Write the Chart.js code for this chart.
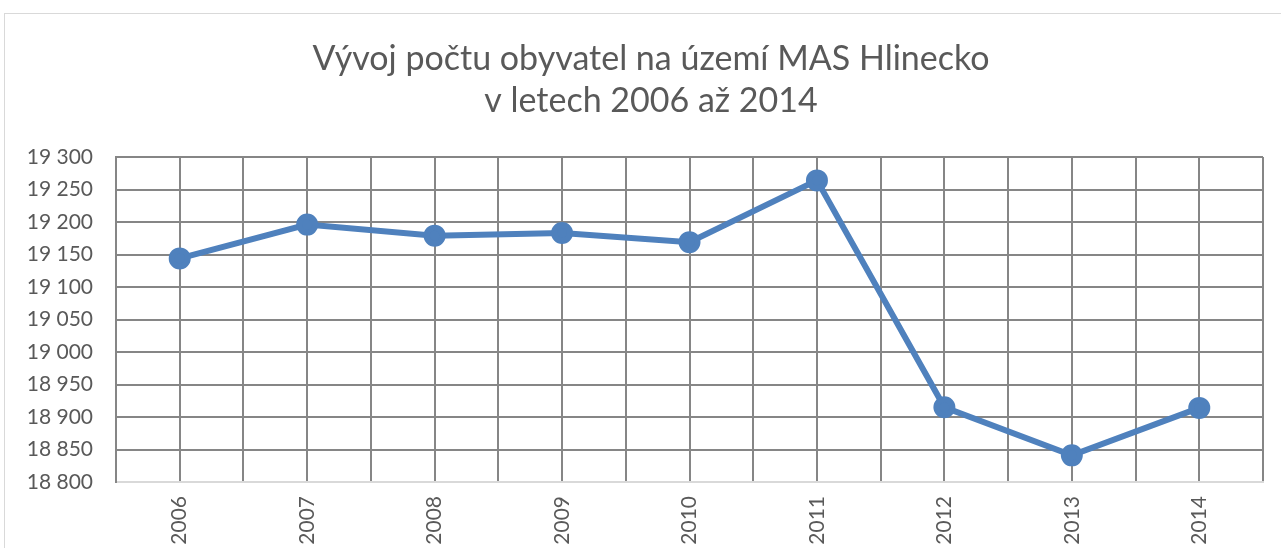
<!DOCTYPE html>
<html>
<head>
<meta charset="utf-8">
<script src="https://cdn.jsdelivr.net/npm/chart.js@4/dist/chart.umd.min.js"></script>
<style>
  html, body { margin: 0; padding: 0; background: #fff; overflow: hidden; }
  #wrap { position: relative; width: 1281px; height: 548px; }
  #frame { position: absolute; left: 4px; top: 13px; width: 1400px; height: 600px; border: 1px solid #d9d9d9; }
  canvas { position: absolute; left: 0; top: 0; }
</style>
</head>
<body>
<div id="wrap">
  <div id="frame"></div>
  <canvas id="chart" width="1281" height="548"></canvas>
</div>
<script>
const titleLines = ['Vývoj počtu obyvatel na území MAS Hlinecko', 'v letech 2006 až 2014'];
const years = ['2006', '2007', '2008', '2009', '2010', '2011', '2012', '2013', '2014'];
const population = [19144, 19196, 19179, 19183, 19169, 19264, 18915, 18841, 18914];
const yMin = 18800;
const yMax = 19300;
const yStep = 50;

const fmt = (v) => String(v).replace(/\B(?=(\d{3})+(?!\d))/g, ' ');

// title sits a bit right of the canvas centre in the original, so draw it ourselves
const titlePlugin = {
  id: 'offsetTitle',
  afterDraw(chart) {
    const { ctx } = chart;
    ctx.save();
    ctx.fillStyle = '#595959';
    ctx.font = '34px Lato';
    ctx.textAlign = 'center';
    ctx.textBaseline = 'alphabetic';
    titleLines.forEach((line, i) => ctx.fillText(line, 651, 70 + i * 42));
    ctx.restore();
  },
};

new Chart(document.getElementById('chart'), {
  type: 'line',
  data: {
    datasets: [{
      data: population.map((y, i) => ({ x: i, y })),
      borderColor: '#4f81bd',
      backgroundColor: '#4f81bd',
      borderWidth: 6,
      pointRadius: 8,
      pointHoverRadius: 8,
      tension: 0,
      fill: false,
    }],
  },
  plugins: [titlePlugin],
  options: {
    responsive: false,
    animation: false,
    layout: { padding: { top: 157, right: 18, left: 0, bottom: 0 } },
    plugins: {
      legend: { display: false },
      tooltip: { enabled: false },
      title: { display: false },
    },
    scales: {
      x: {
        type: 'linear',
        min: -0.5,
        max: years.length - 0.5,
        afterBuildTicks: (scale) => {
          const t = [];
          for (let v = -0.5; v <= years.length - 0.5; v += 0.5) t.push({ value: v });
          scale.ticks = t;
        },
        afterFit: (scale) => {
          scale.height = 66;
          scale.paddingLeft = 0;
          scale.paddingRight = 0;
        },
        grid: { color: '#868686', lineWidth: 2, drawTicks: false },
        border: { color: '#d9d9d9', width: 2 },
        ticks: {
          autoSkip: false,
          minRotation: 90,
          maxRotation: 90,
          padding: 14,
          color: '#595959',
          font: { family: 'Lato', size: 21 },
          callback: (v) => (Number.isInteger(v) ? years[v] : ''),
        },
      },
      y: {
        min: yMin,
        max: yMax,
        afterFit: (scale) => {
          scale.width = 116;
          scale.paddingTop = 0;
          scale.paddingBottom = 0;
        },
        grid: { color: '#868686', lineWidth: 2, drawTicks: false },
        border: { color: '#868686', width: 2 },
        ticks: {
          stepSize: yStep,
          padding: 23,
          color: '#595959',
          font: { family: 'Lato', size: 21 },
          callback: (v) => fmt(v),
        },
      },
    },
  },
});
</script>
</body>
</html>
